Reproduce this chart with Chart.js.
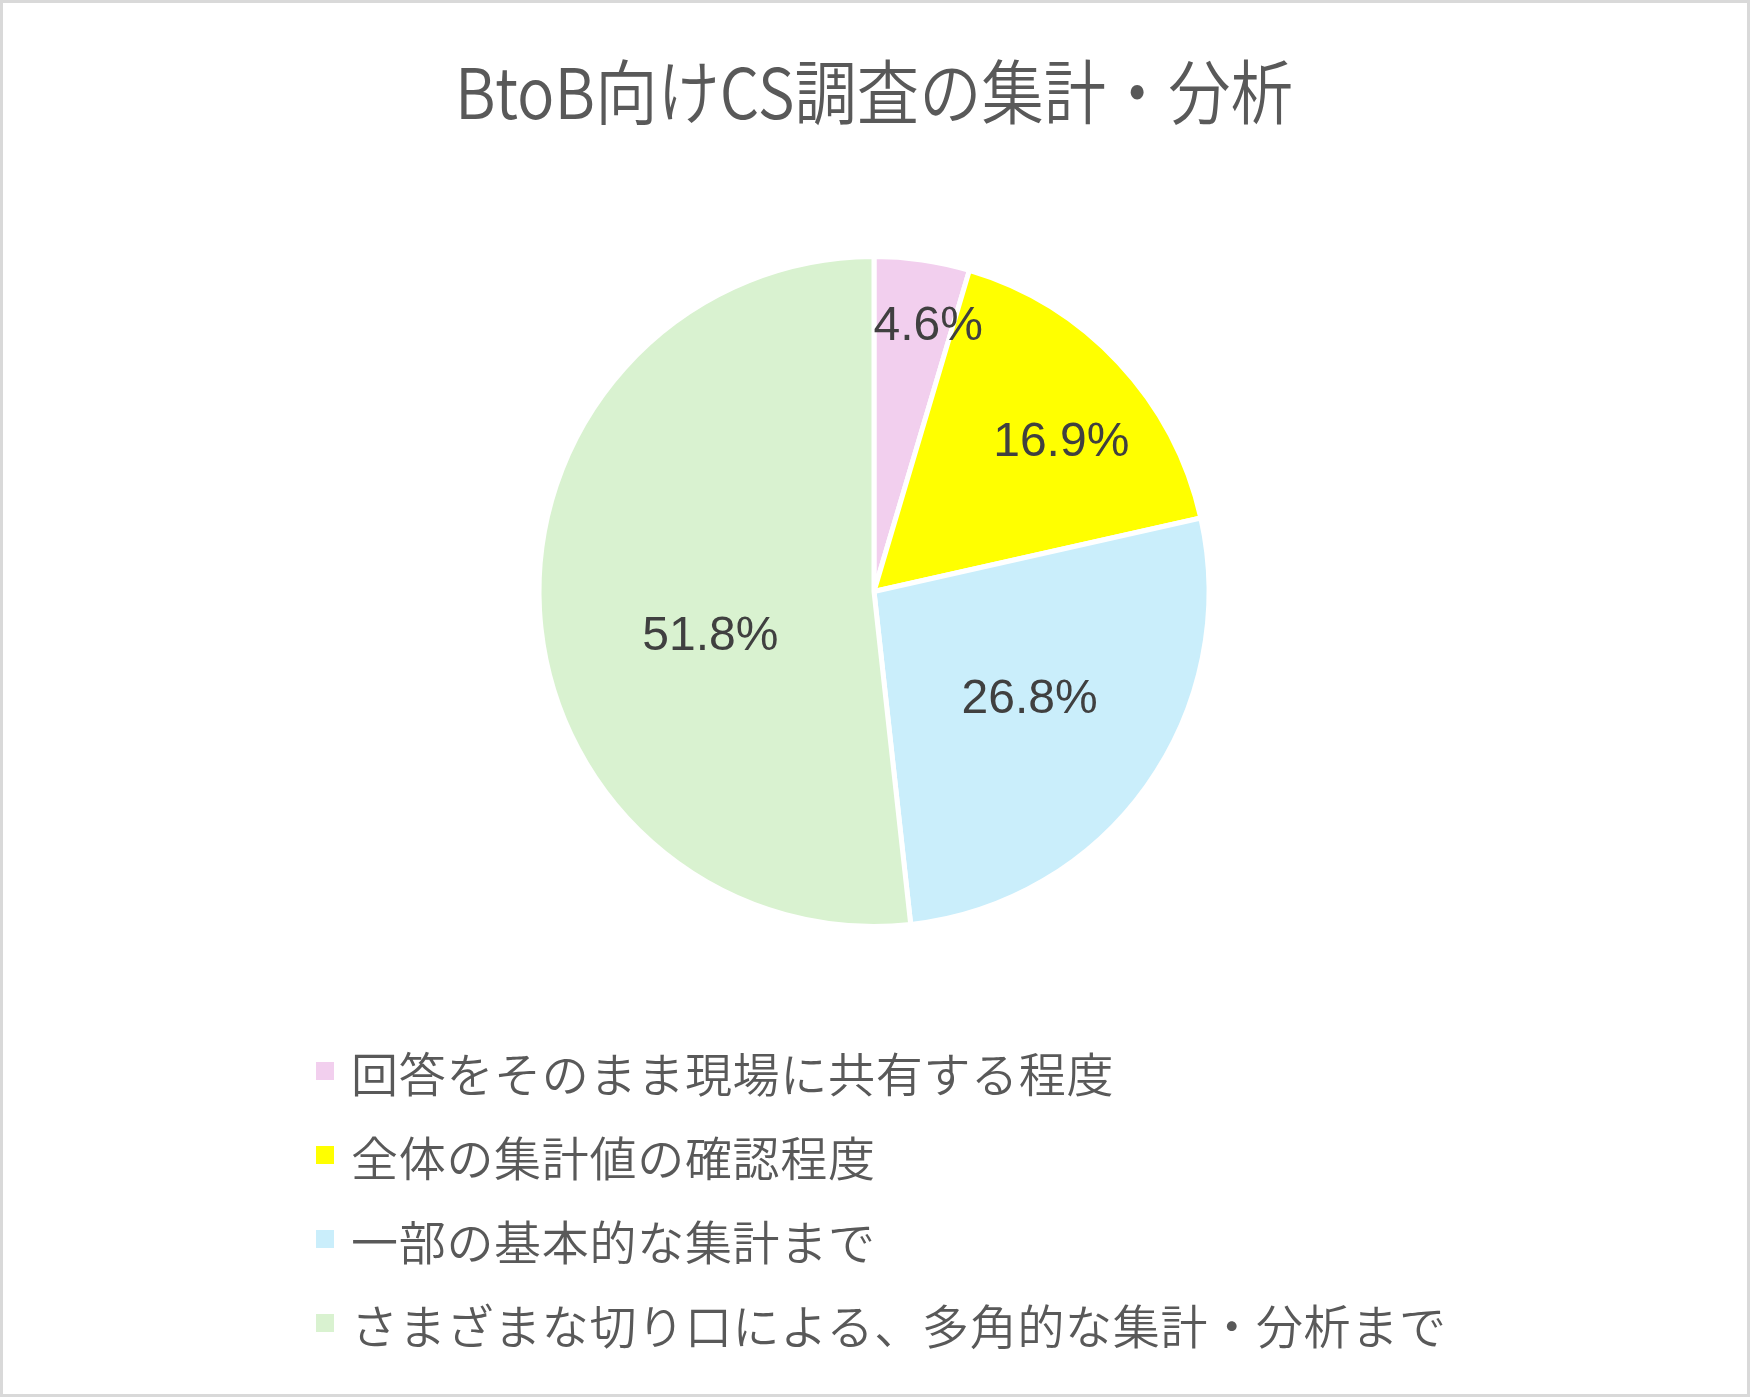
<!DOCTYPE html>
<html lang="ja">
<head>
<meta charset="utf-8">
<title>BtoB向けCS調査の集計・分析</title>
<script src="https://cdn.jsdelivr.net/npm/chart.js@4.4.1/dist/chart.umd.min.js"></script>
<style>
  html, body { margin: 0; padding: 0; background: #fff; }
  #wrap { position: relative; width: 1750px; height: 1397px; overflow: hidden; }
  #frame { position: absolute; left: 0; top: 0; right: 0; bottom: 0; border: 3px solid #d9d9d9; pointer-events: none; }
  #legend { position: absolute; left: 316px; top: 1029px; list-style: none; margin: 0; padding: 0;
            font-family: "Noto Sans CJK JP", "Noto Sans", sans-serif; font-size: 47px; font-weight: 350;
            letter-spacing: 0.7px; color: #595959; }
  #legend li { display: flex; align-items: center; height: 84px; white-space: nowrap; }
  #legend .box { width: 18px; height: 18px; margin-right: 17px; flex: none; }
</style>
</head>
<body>
<div id="wrap">
  <canvas id="chart" width="1750" height="1397"></canvas>
  <ul id="legend"></ul>
  <div id="frame"></div>
</div>
<script>
// データ
const chartTitle = "BtoB向けCS調査の集計・分析";
const categories = [
    "回答をそのまま現場に共有する程度",
    "全体の集計値の確認程度",
    "一部の基本的な集計まで",
    "さまざまな切り口による、多角的な集計・分析まで"
];
const shares = [4.6, 16.9, 26.8, 51.8];
const sliceColors = ["#f2cfee", "#ffff00", "#caeefb", "#d9f2d0"];

// ラベル位置: [半径に対する割合, 角度の補正(度)] — Excel の「自動調整」に寄せる
const labelPlacement = [[0.807, 3.3], [0.713, 4.7], [0.566, -0.7], [0.507, -12.4]];

// タイトル（元の図は縦長の書体なので横方向を少し詰める）
const titleText = {
    id: "titleText",
    afterDraw(chart) {
        const ctx = chart.ctx;
        ctx.save();
        ctx.font = "350 70px 'Noto Sans CJK JP', 'Noto Sans', sans-serif";
        ctx.fillStyle = "#595959";
        ctx.textAlign = "center";
        ctx.textBaseline = "alphabetic";
        ctx.translate(chart.width / 2 - 1, 119);
        ctx.scale(0.89, 1);
        ctx.fillText(chartTitle, 0, 0);
        ctx.restore();
    }
};

const dataLabels = {
    id: "dataLabels",
    afterDatasetsDraw(chart) {
        const ctx = chart.ctx;
        const meta = chart.getDatasetMeta(0);
        ctx.save();
        ctx.font = "48px 'Liberation Sans', Arial, sans-serif";
        ctx.fillStyle = "#404040";
        ctx.textAlign = "center";
        ctx.textBaseline = "middle";
        meta.data.forEach((arc, i) => {
            const p = arc.getProps(["x", "y", "startAngle", "endAngle", "outerRadius"], true);
            const [frac, shift] = labelPlacement[i];
            const a = (p.startAngle + p.endAngle) / 2 + shift * Math.PI / 180;
            const r = p.outerRadius * frac;
            ctx.fillText(shares[i].toFixed(1) + "%", p.x + Math.cos(a) * r, p.y + Math.sin(a) * r);
        });
        ctx.restore();
    }
};

const chart = new Chart(document.getElementById("chart").getContext("2d"), {
    type: "pie",
    data: {
        labels: categories,
        datasets: [{
            data: shares,
            backgroundColor: sliceColors,
            borderColor: "#ffffff",
            borderWidth: 5,
            radius: 335
        }]
    },
    options: {
        responsive: false,
        animation: false,
        events: [],
        layout: { padding: { left: 0, right: 2, top: 143, bottom: 357 } },
        plugins: {
            legend: { display: false },
            tooltip: { enabled: false },
            title: { display: false }
        }
    },
    plugins: [dataLabels, titleText]
});

// 凡例（縦並び）
const legendEl = document.getElementById("legend");
categories.forEach((name, i) => {
    const li = document.createElement("li");
    const box = document.createElement("span");
    box.className = "box";
    box.style.background = sliceColors[i];
    const txt = document.createElement("span");
    txt.textContent = name;
    li.appendChild(box);
    li.appendChild(txt);
    legendEl.appendChild(li);
});
</script>
</body>
</html>
